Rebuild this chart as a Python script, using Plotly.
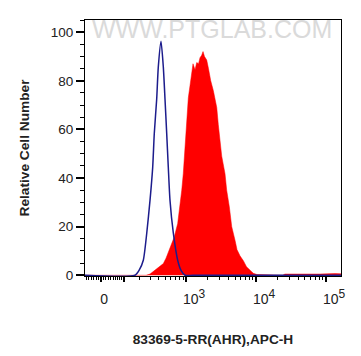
import numpy as np
import plotly.graph_objects as go

# Display coordinate: biexponential channel scale (decades: 3 -> 10^3, 4 -> 10^4 ...)
W_LIN = 122.0
ZERO_POS = 1.786


def biex(v):
    v = np.asarray(v, dtype=float)
    return ZERO_POS + np.arcsinh(v / W_LIN) / np.log(10)


# Isotype / control (blue outline) - display units vs relative count
blue_x = [1.557, 2.271, 2.329, 2.390, 2.439, 2.486, 2.524, 2.547, 2.581, 2.604, 2.643,
          2.676, 2.700, 2.724, 2.747, 2.771, 2.819, 2.881, 2.929, 2.986, 3.10, 5.214]
blue_y = [0, 0, 2, 6.2, 17.3, 30.9, 44.4, 58.4, 72.4, 85.6, 96.3,
          85.6, 72.4, 58.4, 44.4, 30.9, 17.3, 6.2, 2, 0, 0, 0]

# Antibody stained sample (red filled)
red_x = [1.557, 2.429, 2.486, 2.557, 2.629, 2.676, 2.714, 2.761, 2.800, 2.833, 2.881,
         2.914, 2.939, 2.961, 2.976, 2.993, 3.010, 3.033, 3.057, 3.079, 3.100,
         3.129, 3.153, 3.179, 3.200, 3.224, 3.243, 3.264, 3.296, 3.321, 3.353,
         3.390, 3.439, 3.461, 3.486, 3.510, 3.557, 3.581, 3.619, 3.653, 3.700,
         3.729, 3.771, 3.819, 3.864, 3.914, 3.961, 4.014, 4.086, 4.200, 4.380,
         4.414, 4.629, 4.914, 5.129, 5.214]
red_y = [0, 0, 0.5, 2, 3.5, 4.8, 7, 10.3, 13, 15.8, 21.3,
         28.1, 35, 41.8, 48.7, 56, 66, 73, 78, 84, 87,
         84.5, 87.5, 87, 89.5, 90.5, 92, 90, 88.5, 85, 80,
         76, 69, 62, 56, 49, 41.8, 35, 28.1, 20, 14.4,
         10.5, 8, 6, 3.5, 2, 0.8, 0.3, 0.2, 0, 0,
         0.5, 0.4, 0.5, 0.7, 0.6]

y_ticks = [0, 20, 40, 60, 80, 100]
x_major_vals = [0, 100, 1000, 10000, 100000]
x_major_text = ["0", "", "", "", ""]
x_label_vals = [1000, 10000, 100000]
x_label_exps = ["3", "4", "5"]
x_label_text = ["10<sup><span style='font-size:12px'>%s</span></sup>" % e for e in x_label_exps]
x_minor_vals = ([-60, -50, -40, -30, -20, -10, 10, 20, 30, 40, 50, 60, 70, 80, 90]
                + [m * 100 for m in range(2, 10)]
                + [m * 1000 for m in range(2, 10)]
                + [m * 10000 for m in range(2, 10)])

FONT = "Arial, Liberation Sans, sans-serif"
XR = [1.557, 5.214]

fig = go.Figure()
fig.add_trace(go.Scatter(x=red_x, y=red_y, mode="lines", fill="tozeroy",
                         fillcolor="#ff0000", line=dict(color="#ff0000", width=0.5),
                         hoverinfo="skip", showlegend=False))
fig.add_trace(go.Scatter(x=blue_x, y=blue_y, mode="lines",
                         line=dict(color="#1c1c8c", width=1.5, shape="spline", smoothing=0.6),
                         hoverinfo="skip", showlegend=False))
# helper trace to bind the label axis
fig.add_trace(go.Scatter(x=[XR[0]], y=[0], xaxis="x2", mode="markers",
                         marker=dict(opacity=0), hoverinfo="skip", showlegend=False))

# page body has an 8px default margin, so the figure is 8px smaller than the window
fig.update_layout(
    width=353, height=348,
    margin=dict(l=77, r=20, t=12, b=80, autoexpand=False),
    paper_bgcolor="white", plot_bgcolor="white",
    font=dict(family=FONT, color="#222222"),
    xaxis=dict(
        range=XR, showgrid=False, zeroline=False,
        showline=True, linecolor="black", linewidth=1, mirror=True,
        tickmode="array", tickvals=list(biex(x_major_vals)), ticktext=x_major_text,
        ticks="outside", ticklen=5, tickwidth=2, tickcolor="black",
        tickfont=dict(size=14, family=FONT, color="#222222"),
        ticklabelstandoff=5, ticklabelshift=3,
        minor=dict(tickmode="array", tickvals=list(biex(x_minor_vals)),
                   ticks="outside", ticklen=3, tickwidth=1, tickcolor="black",
                   showgrid=False),
        title=dict(text="<b>83369-5-RR(AHR),APC-H</b>", font=dict(size=13.7, family=FONT, color="#222222"),
                   standoff=28),
    ),
    xaxis2=dict(
        range=XR, overlaying="x", side="bottom", anchor="y",
        showgrid=False, zeroline=False, showline=False,
        tickmode="array", tickvals=list(biex(x_label_vals)), ticktext=x_label_text,
        ticks="outside", ticklen=5, tickcolor="rgba(0,0,0,0)",
        tickfont=dict(size=14, family=FONT, color="#222222"),
        ticklabelstandoff=5, ticklabelshift=8,
    ),
    yaxis=dict(
        range=[-0.3, 105], showgrid=False, zeroline=False,
        showline=True, linecolor="black", linewidth=1, mirror=True,
        tickmode="array", tickvals=y_ticks,
        ticks="outside", ticklen=8, tickwidth=2, tickcolor="black",
        tickfont=dict(size=13.5, family=FONT, color="#222222"),
        minor=dict(dtick=5, ticks="outside", ticklen=4, tickwidth=1, tickcolor="black",
                   showgrid=False),
        title=dict(text="<b>Relative Cell Number</b>", font=dict(size=13.7, family=FONT, color="#222222"),
                   standoff=17),
    ),
    annotations=[dict(text="WWW.PTGLAB.COM", xref="paper", yref="paper", x=0.498, y=0.963,
                      xanchor="center", yanchor="middle", showarrow=False,
                      font=dict(size=25, family=FONT, color="#dadada"))],
)

fig.write_html("out.html")
